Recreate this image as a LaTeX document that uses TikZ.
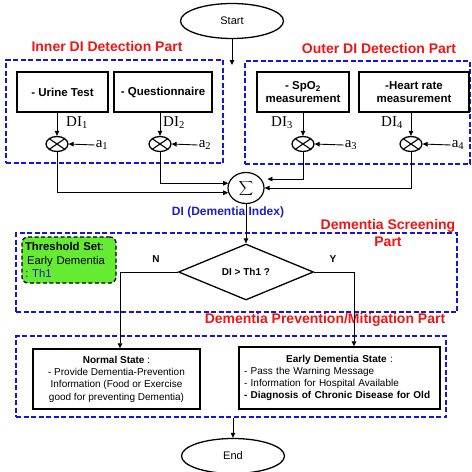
\documentclass[tikz,border=0pt]{standalone}
\usepackage{fontspec}
\setmainfont{Liberation Sans}
\newfontfamily\serifm{Liberation Serif}
\usetikzlibrary{shapes.geometric,arrows.meta,calc}
\definecolor{dblue}{RGB}{20,20,220}
\definecolor{tred}{RGB}{240,20,20}
\definecolor{tgreen}{RGB}{100,235,50}
\definecolor{iblue}{RGB}{30,30,200}
\begin{document}
\begin{tikzpicture}[x=1pt,y=-1pt,
  part/.style={draw=dblue, dash pattern=on 5pt off 2.5pt, line width=1.4pt, rectangle, inner sep=0pt},
  ptitle/.style={text=tred, font=\fontsize{14}{17}\selectfont\bfseries, align=center, inner sep=0pt},
  sbox/.style={draw, line width=1.5pt, rectangle, inner sep=0pt, align=center, font=\fontsize{11.5}{13}\selectfont\bfseries},
  mult/.style={ellipse, draw, line width=1.3pt, minimum width=22pt, minimum height=15pt, inner sep=0pt,
    path picture={\draw[line width=1.1pt] (path picture bounding box.north west) -- (path picture bounding box.south east) (path picture bounding box.north east) -- (path picture bounding box.south west);}},
  dilab/.style={font=\serifm\fontsize{15}{16}\selectfont, inner sep=1pt},
  conn/.style={line width=0.9pt, -{Triangle[length=5pt,width=4.5pt]}},
  term/.style={ellipse, draw, line width=1.3pt, minimum width=103pt, minimum height=35pt, inner sep=0pt, font=\fontsize{11}{13}\selectfont},
  yn/.style={font=\fontsize{10}{12}\selectfont\bfseries, inner sep=0pt},
]
\useasboundingbox (0,0) rectangle (472,472);

% part frames
\node[part, minimum width=217pt, minimum height=103pt] (inner) at (114.5,111.5) {};
\node[part, minimum width=225pt, minimum height=103pt] (outer) at (357.5,112.5) {};
\node[part, minimum width=441pt, minimum height=79pt] (screen) at (236.5,272.5) {};
\node[part, minimum width=430pt, minimum height=81pt] (prev) at (231,376.5) {};

% titles
\node[ptitle] (t1) at (107,46) {Inner DI Detection Part};
\node[ptitle] (t2) at (379,48) {Outer DI Detection Part};
\node[ptitle] (t3) at (388,233) {Dementia Screening\\Part};
\node[ptitle] (t4) at (325,320) {Dementia Prevention/Mitigation Part};

% start
\node[term] (start) at (232,21) {Start};
\coordinate (startend) at (232,65);
\draw[conn] (start.south) -- (startend);

% sensor boxes
\node[sbox, minimum width=91pt, minimum height=40pt] (urine) at (62.5,92) {- Urine Test};
\node[sbox, minimum width=98pt, minimum height=40pt] (quest) at (163,92) {- Questionnaire};
\node[sbox, minimum width=92pt, minimum height=40pt] (spo) at (303,92) {- SpO\textsubscript{2}\\measurement};
\node[sbox, minimum width=110pt, minimum height=40pt] (heart) at (414,92) {-Heart rate\\measurement};

% multipliers
\node[mult] (m1) at (57,144) {};
\node[mult] (m2) at (160,144) {};
\node[mult] (m3) at (303,144) {};
\node[mult] (m4) at (411,144) {};

\draw[conn] (urine.south -| m1) -- (m1.north);
\draw[conn] (quest.south -| m2) -- (m2.north);
\draw[conn] (spo.south -| m3) -- (m3.north);
\draw[conn] (heart.south -| m4) -- (m4.north);

\node[dilab] (d1) at (77,123) {DI\textsubscript{1}};
\node[dilab] (d2) at (174,123) {DI\textsubscript{2}};
\node[dilab] (d3) at (282,123) {DI\textsubscript{3}};
\node[dilab] (d4) at (392,123) {DI\textsubscript{4}};

\node[dilab] (a1) at (102,145) {a\textsubscript{1}};
\node[dilab] (a2) at (205,145) {a\textsubscript{2}};
\node[dilab] (a3) at (351,145) {a\textsubscript{3}};
\node[dilab] (a4) at (458,145) {a\textsubscript{4}};
\draw[conn] (a1.west) -- (m1.east);
\draw[conn] (a2.west) -- (m2.east);
\draw[conn] (a3.west) -- (m3.east);
\draw[conn] (a4.west) -- (m4.east);

% sum
\node[ellipse, draw, line width=1.2pt, minimum width=36pt, minimum height=31pt, inner sep=0pt, font=\fontsize{14}{14}\selectfont] (sig) at (246,188) {$\displaystyle\sum$};
\draw[conn] (m1.south) |- (sig.195);
\draw[conn] (m2.south) |- (sig.165);
\draw[conn] (m3.south) |- ([xshift=6pt]sig.30);
\draw[conn] (m4.south) |- (sig.east);
\node[text=iblue, font=\fontsize{12}{13}\selectfont\bfseries, inner sep=0pt] (dilabel) at (228,212) {DI (Dementia Index)};

% threshold
\node[draw, dash pattern=on 4pt off 2.5pt, line width=1.3pt, rounded corners=6pt, fill=tgreen,
  text width=88pt, inner xsep=3pt, minimum height=46pt, align=left, font=\fontsize{11.3}{13.5}\selectfont] (thr) at (69,260)
  {\textbf{Threshold Set}:\\\hspace*{2pt}Early Dementia\\:\hspace*{4pt}{\color{iblue}Th1}};

% decision
\node[diamond, draw, line width=1.3pt, minimum width=135pt, minimum height=56pt, inner sep=0pt, font=\fontsize{10}{12}\selectfont\bfseries] (dia) at (246,272) {DI > Th1 ?};
\draw[conn] (sig.south) -- (dia.north);
\node[yn] (nlab) at (156,259) {N};
\node[yn] (ylab) at (333,259) {Y};

% outcome boxes
\node[draw, line width=1.5pt, minimum width=167pt, minimum height=60pt, inner sep=0pt, align=center, font=\fontsize{10}{12.3}\selectfont] (normal) at (116.5,379)
  {\textbf{Normal State} :\\- Provide Dementia-Prevention\\Information (Food or Exercise\\good for preventing Dementia)};
\node[draw, line width=1.5pt, text width=191pt, inner xsep=5pt, inner ysep=0pt, minimum height=62pt, align=left, font=\fontsize{10}{12}\selectfont] (early) at (339.5,378)
  {\makebox[191pt]{\textbf{Early Dementia State} :}\\- Pass the Warning Message\\- Information for Hospital Available\\\textbf{- Diagnosis of Chronic Disease for Old}};

\draw[conn] (dia.west) -| ([xshift=3.5pt]normal.north);
\draw[conn] (dia.east) -| ([xshift=14.5pt]early.north);

% end
\node[term] (endn) at (233,456) {End};
\draw[conn] (prev.south -| endn.north) -- (endn.north);
\end{tikzpicture}
\end{document}
